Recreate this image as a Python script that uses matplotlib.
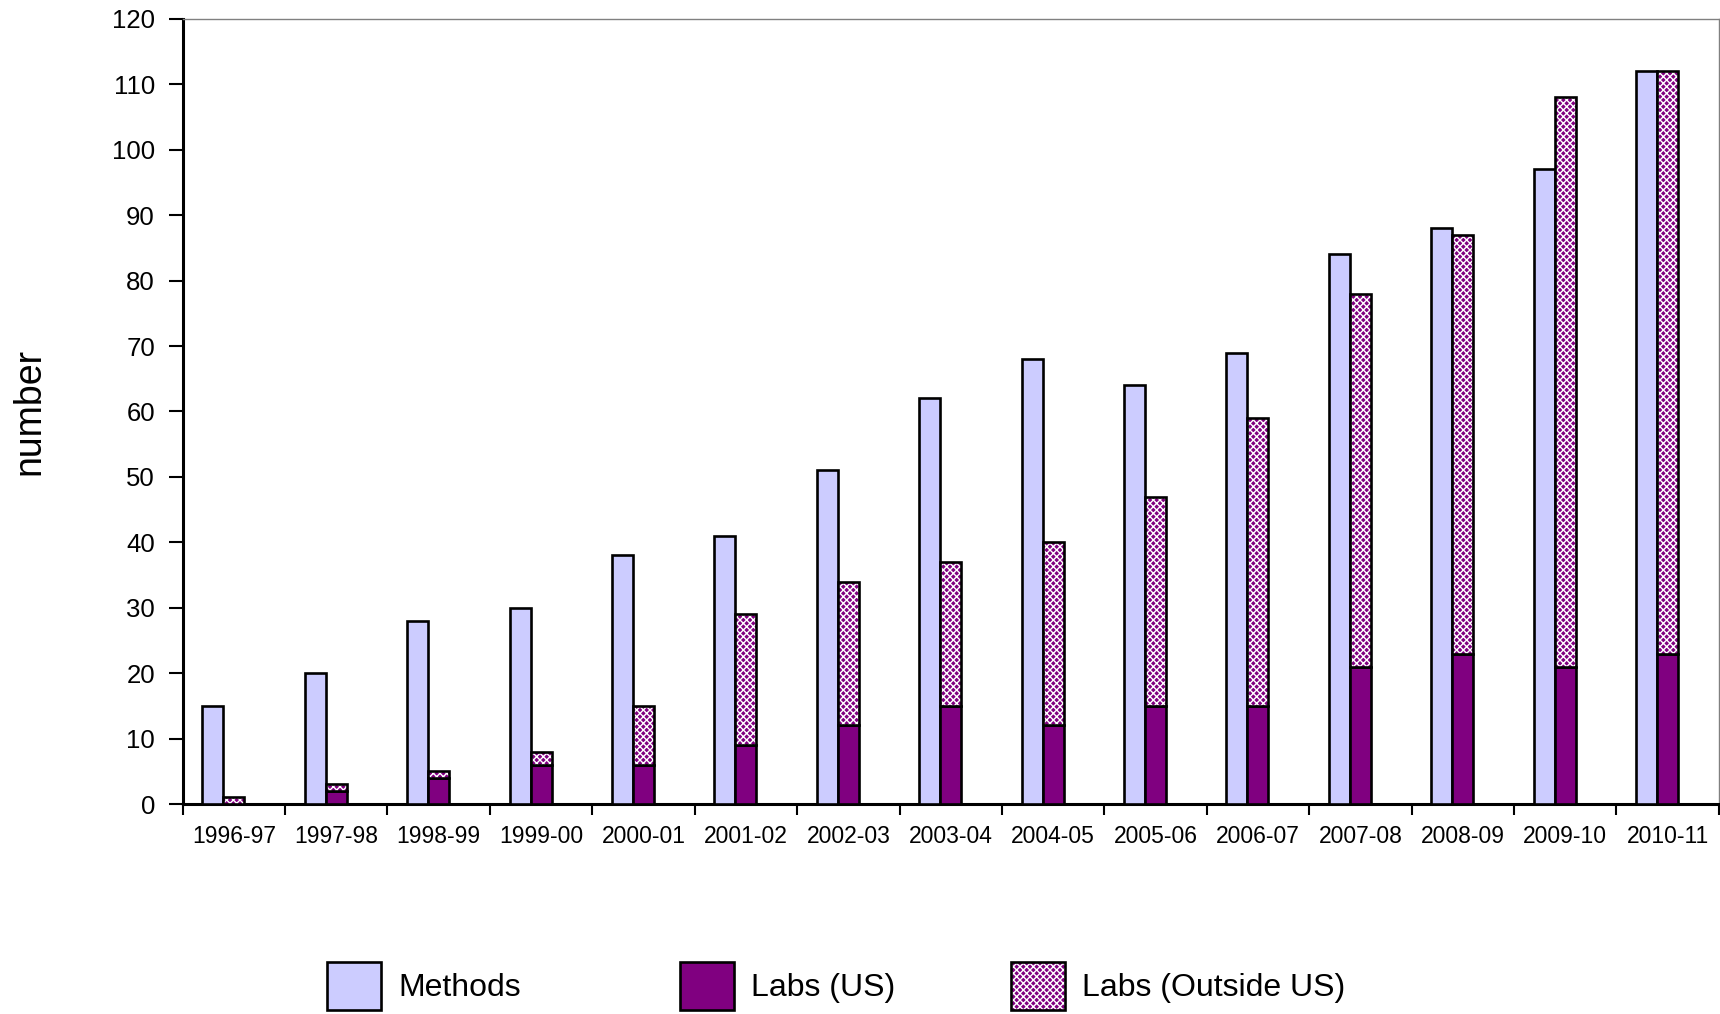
import matplotlib
matplotlib.use("Agg")
import matplotlib.pyplot as plt
from matplotlib.patches import Rectangle
import numpy as np

plt.rcParams['font.family'] = ['Liberation Sans', 'DejaVu Sans']
plt.rcParams['hatch.linewidth'] = 1.0

seasons = ["1996-97", "1997-98", "1998-99", "1999-00", "2000-01", "2001-02",
           "2002-03", "2003-04", "2004-05", "2005-06", "2006-07", "2007-08",
           "2008-09", "2009-10", "2010-11"]
methods = [15, 20, 28, 30, 38, 41, 51, 62, 68, 64, 69, 84, 88, 97, 112]
labs_us = [0, 2, 4, 6, 6, 9, 12, 15, 12, 15, 15, 21, 23, 21, 23]
labs_outside_us = [1, 1, 1, 2, 9, 20, 22, 22, 28, 32, 44, 57, 64, 87, 89]

C_METHODS = "#CCCCFF"
C_LABS = "#800080"
EDGE_LW = 1.9

fig = plt.figure(figsize=(17.2, 10.14), dpi=100)
ax = fig.add_axes([0.1062, 0.2071, 0.8931, 0.7742])

x = np.arange(len(seasons))
w = 0.205

# Methods bars to the left of each category centre
ax.bar(x - w, methods, width=w, color=C_METHODS, edgecolor="black",
       linewidth=EDGE_LW, zorder=3)

# Labs: US at the bottom, outside-US stacked on top with a white dotted hatch
ax.bar(x, labs_us, width=w, color=C_LABS, edgecolor="black",
       linewidth=EDGE_LW, zorder=3)
ax.bar(x, labs_outside_us, width=w, bottom=labs_us, color=C_LABS,
       edgecolor="white", hatch="xxxxx", linewidth=0, zorder=3)
ax.bar(x, labs_outside_us, width=w, bottom=labs_us, facecolor="none",
       edgecolor="black", linewidth=EDGE_LW, zorder=4)

ax.set_xlim(-0.5, len(seasons) - 0.5)
ax.set_ylim(0, 120)
ax.set_yticks(np.arange(0, 121, 10))
ax.tick_params(axis="y", labelsize=18.5, length=10, width=1.5, pad=10,
               direction="out")

ax.set_xticks(x)
ax.set_xticklabels(seasons)
ax.set_xticks(np.arange(-0.5, len(seasons), 1.0), minor=True)
ax.tick_params(axis="x", which="major", length=0, labelsize=16.5, pad=15)
ax.tick_params(axis="x", which="minor", length=8, width=1.5, direction="out")

for side in ("left", "bottom"):
    ax.spines[side].set_linewidth(2.2)
    ax.spines[side].set_color("black")
for side in ("top", "right"):
    ax.spines[side].set_linewidth(1.0)
    ax.spines[side].set_color("#808080")

ax.set_ylabel("number", fontsize=27)
ax.yaxis.set_label_coords(-0.088, 0.5)

# Legend: three separate entries spread across the bottom
fs = 23
px_per_pt = 100 / 72
em = fs * px_per_pt
patch_w_px, patch_h_px = 54, 48
# legend shortens the patch by a descent of 0.35*fs*(handleheight-0.7)
hh = (patch_h_px / em - 0.245) / 0.65


def legend_item(handle, label, left_px):
    fig.legend(handles=[handle], labels=[label], loc="center left",
               bbox_to_anchor=(left_px / 1720, 1 - 986 / 1014),
               frameon=False, fontsize=fs, borderpad=0, borderaxespad=0,
               handlelength=patch_w_px / em, handleheight=hh,
               handletextpad=17 / em)


legend_item(Rectangle((0, 0), 1, 1, facecolor=C_METHODS, edgecolor="black",
                      linewidth=EDGE_LW), "Methods", 327)
legend_item(Rectangle((0, 0), 1, 1, facecolor=C_LABS, edgecolor="black",
                      linewidth=EDGE_LW), "Labs (US)", 680)
hatched = Rectangle((0, 0), 1, 1, facecolor=C_LABS, edgecolor="white",
                    hatch="xxxxx", linewidth=0)
outline = Rectangle((0, 0), 1, 1, facecolor="none", edgecolor="black",
                    linewidth=EDGE_LW)
legend_item((hatched, outline), "Labs (Outside US)", 1011)

fig.savefig("out.png", dpi=100)
